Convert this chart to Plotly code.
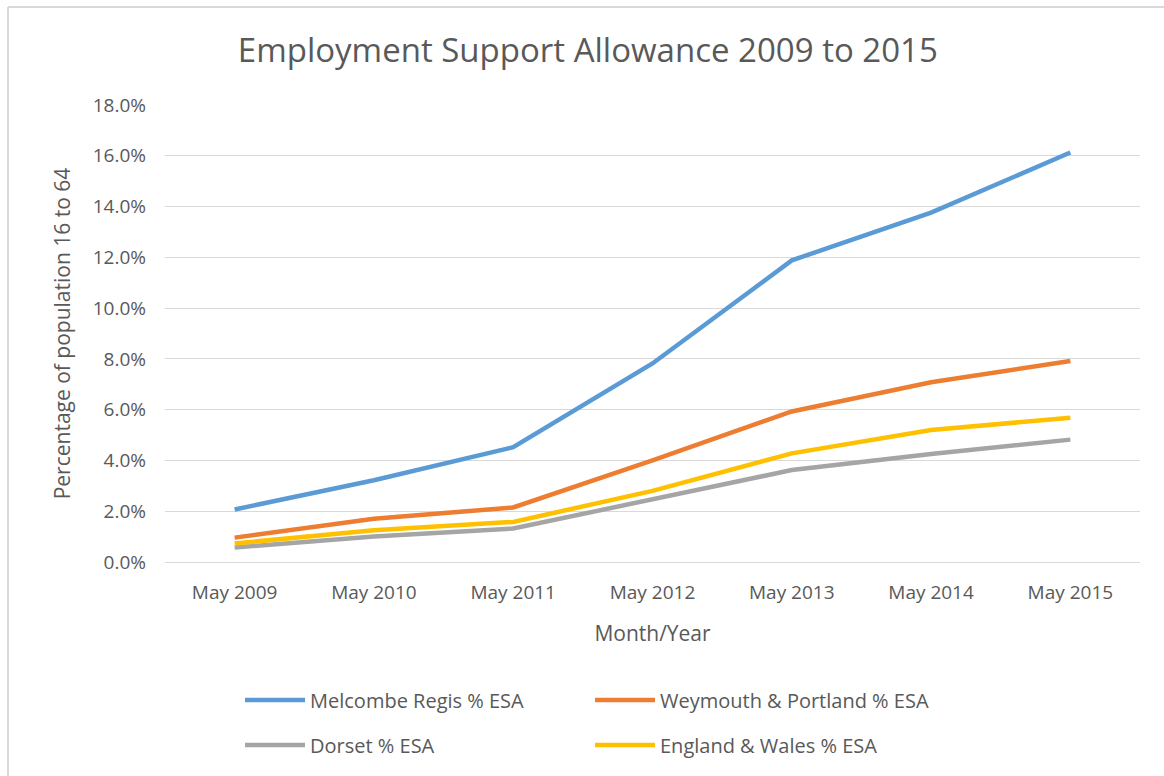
import plotly.graph_objects as go

months = ["May 2009", "May 2010", "May 2011", "May 2012", "May 2013", "May 2014", "May 2015"]

melcombe = [2.07, 3.22, 4.52, 7.82, 11.88, 13.76, 16.13]
weymouth = [0.96, 1.70, 2.15, 4.00, 5.93, 7.08, 7.92]
dorset = [0.57, 1.00, 1.32, 2.45, 3.62, 4.25, 4.82]
eng_wales = [0.73, 1.25, 1.58, 2.80, 4.28, 5.20, 5.68]

y_ticks = [0, 2, 4, 6, 8, 10, 12, 14, 16, 18]

# (name, values, colour, legend row)
series = [
    ("Melcombe Regis % ESA", melcombe, "#5B9BD5", "legend"),
    ("Weymouth & Portland % ESA", weymouth, "#ED7D31", "legend"),
    ("Dorset % ESA", dorset, "#A5A5A5", "legend2"),
    ("England & Wales % ESA", eng_wales, "#FFC000", "legend2"),
]

font_family = "Open Sans, Liberation Sans, sans-serif"
text_color = "#595959"

# plot area in pixels: x 165..1140, y 105..562
W, H = 1164, 776
L, R, T, B = 165, 24, 105, 214
pw, ph = W - L - R, H - T - B


def px_x(x):
    return (x - L) / pw


def px_y(y):
    return (H - B - y) / ph


fig = go.Figure()
for name, vals, color, leg in series:
    fig.add_trace(go.Scatter(
        x=months,
        y=vals,
        mode="lines",
        name=name,
        legend=leg,
        line=dict(color=color, width=4.5),
        hovertemplate="%{x}: %{y:.1f}%<extra>" + name + "</extra>",
    ))

legend_common = dict(
    orientation="h",
    x=px_x(240), xanchor="left",
    yanchor="middle",
    itemwidth=60,
    entrywidth=275,
    entrywidthmode="pixels",
    font=dict(size=20),
    bgcolor="rgba(0,0,0,0)",
)

fig.update_layout(
    width=W,
    height=H,
    paper_bgcolor="white",
    plot_bgcolor="white",
    margin=dict(l=L, r=R, t=T, b=B),
    font=dict(family=font_family, color=text_color, size=20),
    title=dict(
        text="Employment Support Allowance 2009 to 2015",
        x=0.505, xanchor="center",
        y=1 - 50 / H, yanchor="middle",
        font=dict(size=33, color=text_color),
    ),
    xaxis=dict(
        title=dict(text="Month/Year", font=dict(size=21), standoff=22),
        automargin=False,
        range=[-0.5, 6.5],
        showgrid=False,
        showline=True,
        linecolor="#D9D9D9",
        ticks="",
        ticklabelstandoff=13,
        tickfont=dict(size=19),
    ),
    yaxis=dict(
        title=dict(text="Percentage of population 16 to 64", font=dict(size=21), standoff=16),
        automargin=False,
        range=[0, 18],
        tickvals=y_ticks,
        ticktext=[f"{v:.1f}%" for v in y_ticks],
        showgrid=True,
        gridcolor="#D9D9D9",
        gridwidth=1,
        zeroline=False,
        ticks="",
        ticklabelstandoff=18,
        tickfont=dict(size=19),
    ),
    legend=dict(y=px_y(700), **legend_common),
    legend2=dict(y=px_y(745), **legend_common),
    shapes=[
        dict(type="line", xref="paper", yref="paper",
             x0=px_x(8), x1=px_x(W), y0=px_y(7), y1=px_y(7),
             line=dict(color="#D9D9D9", width=2)),
        dict(type="line", xref="paper", yref="paper",
             x0=px_x(8), x1=px_x(8), y0=px_y(7), y1=px_y(H),
             line=dict(color="#D9D9D9", width=2)),
    ],
)

# drop the browser's default body margin so the figure sits at the page corner
fig.write_html(
    "out.html",
    config={"displayModeBar": False},
    post_script="document.body.style.margin='0';",
)
